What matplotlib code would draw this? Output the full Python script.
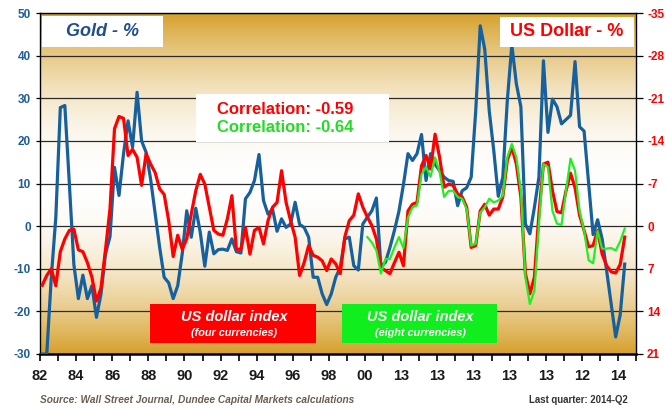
import numpy as np
import matplotlib
matplotlib.use('Agg')
import matplotlib.pyplot as plt
from matplotlib.patches import Rectangle

# ---------------- data (quarterly, 1982-Q1 .. 2014-Q2) ----------------
gold_pct = [-30, -30, -12, 2, 27.8, 28.3, 10, -9, -17, -11.5,
            -17, -14, -21.4, -16, -6.5, -2.5, 13.8, 7.2, 17, 24.7,
            18.5, 31.4, 20, 17.3, 11, 3, -5, -12, -13.3, -17,
            -14, -6.5, 3.6, -2.6, 4.2, -1.5, -9.4, -1.4, -6.5, -5.5,
            -5.4, -5.7, -3, -6, -6.3, 6.4, 7.9, 10.7, 16.8, 6,
            2.8, 4, -1.2, 1.7, -0.3, 0.5, 5.6, 0.4, -0.3, -2.6,
            -12, -12, -15.9, -18.4, -15.9, -12, -9.7, -3, -2.6, -9.3,
            -10.3, 0.5, 2.1, 3.6, 6.6, -9.5, -8.5, -5, -1, 3.5,
            9.8, 17, 15.4, 17, 21.5, 10.7, 17, 14.5, 13, 11.5,
            10.7, 10.5, 4.8, 8.3, 9, 11.5, 27, 47, 41.5, 27,
            17.7, 7, 11.5, 29.5, 42.5, 33.4, 28, 0.5, -1.8, 4.4,
            11.5, 38.8, 22, 29.8, 28, 24, 25, 26, 38.6, 23.3,
            22.3, 10, -2, 1.5, -3, -10.5, -18.3, -26, -20.8, -8.9]

usd4_pct = [9.7, 8.1, 7.0, 9.8, 4.2, 2.1, 0.7, 0.5, 3.9, 4.2,
            6.0, 8.4, 12.3, 10.2, 3.9, -2.8, -16.0, -18.0, -17.7, -11.6,
            -12.6, -11.3, -6.7, -11.9, -10.2, -8.8, -6.1, -5.2, -0.9, 5.0,
            1.5, 3.8, 2.1, -2.0, -5.8, -8.5, -6.9, -3.1, 0.7, 1.3,
            1.5, -1.2, -5.0, 3.8, 3.8, 0.2, 4.6, 0.7, 0.2, 2.9,
            -0.9, -3.1, -3.9, -9.1, -3.9, -0.9, 1.8, 8.1, 6.0, 3.2,
            4.8, 5.1, 5.7, 7.3, 5.4, 6.2, 7.8, 1.8, -0.9, -1.8,
            -5.3, -3.1, -1.5, -0.1, 2.1, 6.8, 7.3, 7.8, 6.0, 4.3,
            6.5, -2.5, -3.6, -3.9, -9.9, -11.6, -9.4, -15.1, -11.3, -6.4,
            -6.9, -6.7, -5.3, -4.8, -3.1, 3.5, 3.2, -2.5, -3.6, -1.8,
            -2.8, -2.8, -4.8, -10.8, -13.0, -10.2, -4.8, 7.8, 11.1, 8.4,
            -2.0, -10.2, -10.5, -5.8, -2.4, -2.2, -5.8, -8.7, -6.3, -1.8,
            0.7, 3.4, 3.2, 0.7, 4.6, 6.5, 7.5, 7.7, 6.3, 1.8]

usd8_start = 72
usd8_pct = [1.8, 2.7, 4.0, 7.8, 5.4, 5.4, 3.5, 1.8,
            3.6, -1.4, -3.1, -3.4, -8.5, -9.7, -8.1, -11.3, -8.9, -4.8,
            -5.8, -5.8, -4.8, -4.5, -2.8, 3.2, 2.9, -2.2, -3.1, -4.5,
            -3.9, -4.2, -5.0, -11.3, -13.5, -11.3, -5.8, 8.4, 12.8, 10.6,
            -0.4, -10.2, -9.7, -2.5, -0.4, -0.2, -5.8, -11.1, -9.1, -2.5,
            0.7, 5.6, 6.1, 0.8, 3.7, 3.7, 3.6, 4.0, 2.5, 0.4]

x_labels = ['82', '84', '86', '88', '90', '92', '94', '96', '98',
            '00', '13', '13', '13', '13', '13', '12', '14']
left_ticks = [-30, -20, -10, 0, 10, 20, 30, 40, 50]
right_ticks = [-35, -28, -21, -14, -7, 0, 7, 14, 21]

# ---------------- figure ----------------
plt.rcParams['font.family'] = ['Liberation Sans', 'DejaVu Sans']
W, H = 668, 409
fig = plt.figure(figsize=(W / 100, H / 100), dpi=100)
fig.patch.set_facecolor('white')

L, R, T, B = 40, 636, 13, 354
ax = fig.add_axes([L / W, 1 - B / H, (R - L) / W, (B - T) / H])

n_cat = 132
# background gradient: gold at top and bottom, white in middle
ys = np.linspace(0, 1, 500)
t = np.abs(ys - 0.5) / 0.5
f = t ** 2.0
goldc = np.array([214, 160, 42]) / 255.0
img = (1 - f)[:, None] * np.ones(3)[None, :] + f[:, None] * goldc[None, :]
ax.imshow(img[:, None, :], extent=[0, n_cat, -30, 50], aspect='auto',
          origin='lower', zorder=0, interpolation='bilinear')

x = np.arange(len(gold_pct)) + 0.5
ax.plot(x, gold_pct, color='#17609E', lw=2.3, zorder=3, solid_joinstyle='round')
ax.set_xlim(0, n_cat)
ax.set_ylim(-30, 50)
ax.set_yticks(left_ticks)
ax.set_yticklabels([str(v) for v in left_ticks], fontweight='bold',
                   color='#1F5C99', fontsize=8.5)
ax.yaxis.grid(True, color='#2b2b2b', lw=0.9)
ax.set_axisbelow(True)
ax.tick_params(axis='y', direction='out', length=3, width=0.9, pad=3.5)

xt = np.arange(0, n_cat + 1, 4)
ax.set_xticks(xt)
ax.set_xticklabels([x_labels[i // 2] if i % 2 == 0 else '' for i in range(len(xt))],
                   fontweight='bold', fontsize=10.5, color='#1a1a1a')
ax.tick_params(axis='x', direction='out', length=5, width=1.2, pad=6)

for s in ['left', 'right', 'top']:
    ax.spines[s].set_color('black')
    ax.spines[s].set_linewidth(1.0)
ax.spines['bottom'].set_linewidth(1.8)

ax2 = ax.twinx()
ax2.set_ylim(21, -35)
ax2.set_yticks(right_ticks)
ax2.set_yticklabels([str(v) for v in right_ticks], fontweight='bold',
                    color='#FF0000', fontsize=8.5)
ax2.tick_params(axis='y', direction='out', length=5, width=0.9, pad=3)
ax2.plot(x, usd4_pct, color='#FF0000', lw=2.3, zorder=3, solid_joinstyle='round')
x8 = np.arange(usd8_start, usd8_start + len(usd8_pct)) + 0.5
ax2.plot(x8, usd8_pct, color='#22EE22', lw=1.6, zorder=4, solid_joinstyle='round')
ax2.set_xlim(0, n_cat)
for s in ax2.spines.values():
    s.set_visible(False)


def fx(px):
    return px / W


def fy(py):
    return 1 - py / H


def box(x0, y0, x1, y1, color):
    fig.add_artist(Rectangle((fx(x0), fy(y1)), fx(x1) - fx(x0), fy(y0) - fy(y1),
                             transform=fig.transFigure, facecolor=color,
                             edgecolor='none', zorder=5))


box(42, 16, 163, 47, 'white')
fig.text(fx(103), fy(31.5), 'Gold - %', color='#1F4E8C', fontsize=13,
         fontweight='bold', style='italic', ha='center', va='center', zorder=6)

box(500, 16.5, 634, 46.7, 'white')
fig.text(fx(567), fy(32), 'US Dollar - %', color='#FF0000', fontsize=13,
         fontweight='bold', ha='center', va='center', zorder=6)

box(196, 94, 389, 142, 'white')
fig.text(fx(217), fy(109), 'Correlation: -0.59', color='#FF0000', fontsize=12,
         fontweight='bold', ha='left', va='center', zorder=6)
fig.text(fx(217), fy(128), 'Correlation: -0.64', color='#22DD22', fontsize=12,
         fontweight='bold', ha='left', va='center', zorder=6)

box(150, 304, 316, 342.7, '#FF0000')
fig.text(fx(234), fy(317), 'US dollar index', color='white', fontsize=10.5,
         fontweight='bold', style='italic', ha='center', va='center', zorder=6)
fig.text(fx(234), fy(332.5), '(four currencies)', color='white', fontsize=7.8,
         fontweight='bold', style='italic', ha='center', va='center', zorder=6)

box(342, 304, 497, 342.7, '#11EE1E')
fig.text(fx(420), fy(317), 'US dollar index', color='white', fontsize=10.5,
         fontweight='bold', style='italic', ha='center', va='center', zorder=6)
fig.text(fx(420), fy(332.5), '(eight currencies)', color='white', fontsize=7.8,
         fontweight='bold', style='italic', ha='center', va='center', zorder=6)

fig.text(fx(40), fy(400), 'Source: Wall Street Journal, Dundee Capital Markets calculations',
         color='#6b5e4e', fontsize=7.3, fontweight='bold', style='italic',
         ha='left', va='center')
fig.text(fx(628), fy(400), 'Last quarter: 2014-Q2', color='#333333', fontsize=6.9,
         fontweight='bold', ha='right', va='center')

fig.savefig('out.png', dpi=100, facecolor='white')
